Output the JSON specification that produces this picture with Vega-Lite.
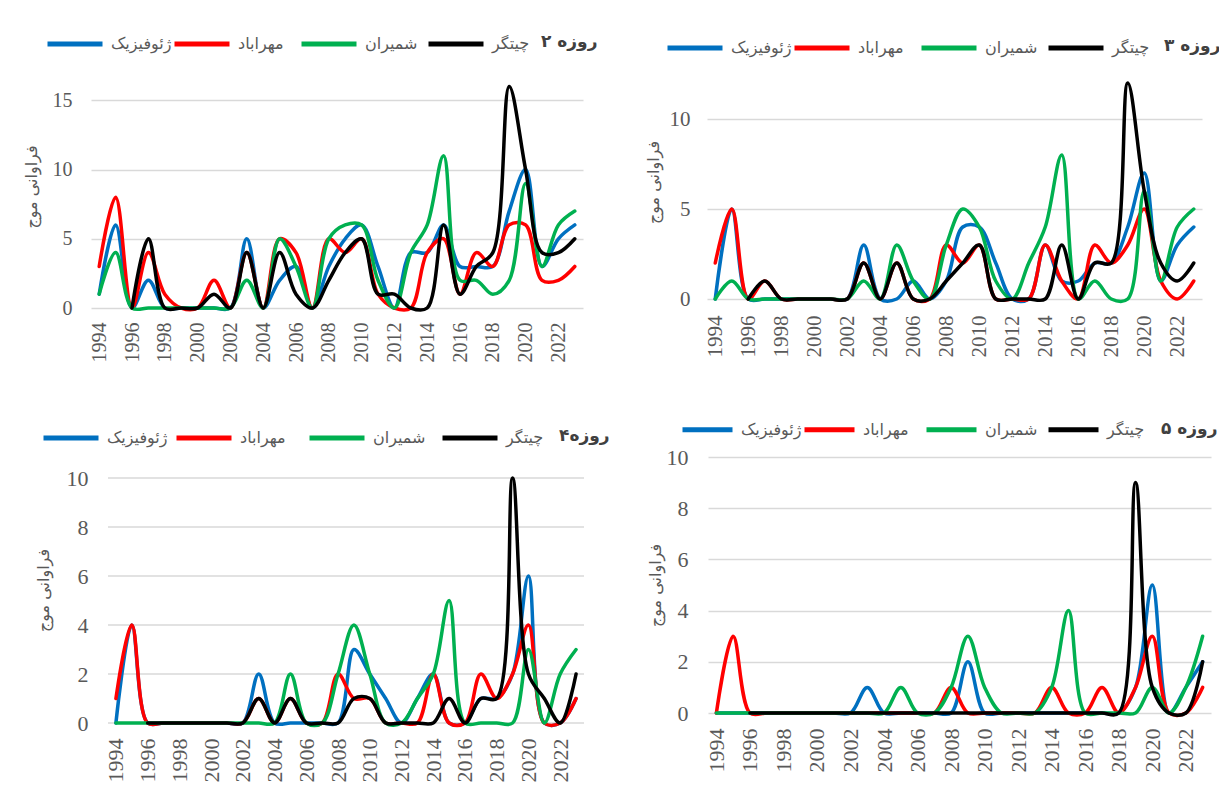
{
  "$schema": "https://vega.github.io/schema/vega-lite/v6.json",
  "background": "white",
  "padding": {"left": 23, "top": 14, "right": 2, "bottom": 2},
  "datasets": {
    "d2": [
      {"year":1994,"ژئوفیزیک":1,"مهراباد":3,"شمیران":1,"چیتگر":null},
      {"year":1995,"ژئوفیزیک":6,"مهراباد":8,"شمیران":4,"چیتگر":null},
      {"year":1996,"ژئوفیزیک":0,"مهراباد":0,"شمیران":0,"چیتگر":0},
      {"year":1997,"ژئوفیزیک":2,"مهراباد":4,"شمیران":0,"چیتگر":5},
      {"year":1998,"ژئوفیزیک":0,"مهراباد":1,"شمیران":0,"چیتگر":0},
      {"year":1999,"ژئوفیزیک":0,"مهراباد":0,"شمیران":0,"چیتگر":0},
      {"year":2000,"ژئوفیزیک":0,"مهراباد":0,"شمیران":0,"چیتگر":0},
      {"year":2001,"ژئوفیزیک":0,"مهراباد":2,"شمیران":0,"چیتگر":1},
      {"year":2002,"ژئوفیزیک":0,"مهراباد":0,"شمیران":0,"چیتگر":0},
      {"year":2003,"ژئوفیزیک":5,"مهراباد":4,"شمیران":2,"چیتگر":4},
      {"year":2004,"ژئوفیزیک":0,"مهراباد":0,"شمیران":0,"چیتگر":0},
      {"year":2005,"ژئوفیزیک":2,"مهراباد":5,"شمیران":5,"چیتگر":4},
      {"year":2006,"ژئوفیزیک":3,"مهراباد":4,"شمیران":3,"چیتگر":1},
      {"year":2007,"ژئوفیزیک":0,"مهراباد":0,"شمیران":0,"چیتگر":0},
      {"year":2008,"ژئوفیزیک":3,"مهراباد":5,"شمیران":5,"چیتگر":2},
      {"year":2009,"ژئوفیزیک":5,"مهراباد":4,"شمیران":6,"چیتگر":4},
      {"year":2010,"ژئوفیزیک":6,"مهراباد":5,"شمیران":6,"چیتگر":5},
      {"year":2011,"ژئوفیزیک":3,"مهراباد":1,"شمیران":2,"چیتگر":1},
      {"year":2012,"ژئوفیزیک":0,"مهراباد":0,"شمیران":0,"چیتگر":1},
      {"year":2013,"ژئوفیزیک":4,"مهراباد":0,"شمیران":4,"چیتگر":0},
      {"year":2014,"ژئوفیزیک":4,"مهراباد":4,"شمیران":6,"چیتگر":0},
      {"year":2015,"ژئوفیزیک":6,"مهراباد":5,"شمیران":11,"چیتگر":6},
      {"year":2016,"ژئوفیزیک":3,"مهراباد":1,"شمیران":2,"چیتگر":1},
      {"year":2017,"ژئوفیزیک":3,"مهراباد":4,"شمیران":2,"چیتگر":3},
      {"year":2018,"ژئوفیزیک":3,"مهراباد":3,"شمیران":1,"چیتگر":4},
      {"year":2019,"ژئوفیزیک":7,"مهراباد":6,"شمیران":2,"چیتگر":16},
      {"year":2020,"ژئوفیزیک":10,"مهراباد":6,"شمیران":9,"چیتگر":10},
      {"year":2021,"ژئوفیزیک":3,"مهراباد":2,"شمیران":3,"چیتگر":4},
      {"year":2022,"ژئوفیزیک":5,"مهراباد":2,"شمیران":6,"چیتگر":4},
      {"year":2023,"ژئوفیزیک":6,"مهراباد":3,"شمیران":7,"چیتگر":5}
    ],
    "d3": [
      {"year":1994,"ژئوفیزیک":0,"مهراباد":2,"شمیران":0,"چیتگر":null},
      {"year":1995,"ژئوفیزیک":5,"مهراباد":5,"شمیران":1,"چیتگر":null},
      {"year":1996,"ژئوفیزیک":0,"مهراباد":0,"شمیران":0,"چیتگر":0},
      {"year":1997,"ژئوفیزیک":0,"مهراباد":1,"شمیران":0,"چیتگر":1},
      {"year":1998,"ژئوفیزیک":0,"مهراباد":0,"شمیران":0,"چیتگر":0},
      {"year":1999,"ژئوفیزیک":0,"مهراباد":0,"شمیران":0,"چیتگر":0},
      {"year":2000,"ژئوفیزیک":0,"مهراباد":0,"شمیران":0,"چیتگر":0},
      {"year":2001,"ژئوفیزیک":0,"مهراباد":0,"شمیران":0,"چیتگر":0},
      {"year":2002,"ژئوفیزیک":0,"مهراباد":0,"شمیران":0,"چیتگر":0},
      {"year":2003,"ژئوفیزیک":3,"مهراباد":2,"شمیران":1,"چیتگر":2},
      {"year":2004,"ژئوفیزیک":0,"مهراباد":0,"شمیران":0,"چیتگر":0},
      {"year":2005,"ژئوفیزیک":0,"مهراباد":2,"شمیران":3,"چیتگر":2},
      {"year":2006,"ژئوفیزیک":1,"مهراباد":0,"شمیران":1,"چیتگر":0},
      {"year":2007,"ژئوفیزیک":0,"مهراباد":0,"شمیران":0,"چیتگر":0},
      {"year":2008,"ژئوفیزیک":1,"مهراباد":3,"شمیران":3,"چیتگر":1},
      {"year":2009,"ژئوفیزیک":4,"مهراباد":2,"شمیران":5,"چیتگر":2},
      {"year":2010,"ژئوفیزیک":4,"مهراباد":3,"شمیران":4,"چیتگر":3},
      {"year":2011,"ژئوفیزیک":2,"مهراباد":0,"شمیران":1,"چیتگر":0},
      {"year":2012,"ژئوفیزیک":0,"مهراباد":0,"شمیران":0,"چیتگر":0},
      {"year":2013,"ژئوفیزیک":0,"مهراباد":0,"شمیران":2,"چیتگر":0},
      {"year":2014,"ژئوفیزیک":3,"مهراباد":3,"شمیران":4,"چیتگر":0},
      {"year":2015,"ژئوفیزیک":1,"مهراباد":1,"شمیران":8,"چیتگر":3},
      {"year":2016,"ژئوفیزیک":1,"مهراباد":0,"شمیران":0,"چیتگر":0},
      {"year":2017,"ژئوفیزیک":2,"مهراباد":3,"شمیران":1,"چیتگر":2},
      {"year":2018,"ژئوفیزیک":2,"مهراباد":2,"شمیران":0,"چیتگر":2},
      {"year":2019,"ژئوفیزیک":4,"مهراباد":3,"شمیران":0,"چیتگر":12},
      {"year":2020,"ژئوفیزیک":7,"مهراباد":5,"شمیران":6,"چیتگر":6},
      {"year":2021,"ژئوفیزیک":1,"مهراباد":1,"شمیران":1,"چیتگر":2},
      {"year":2022,"ژئوفیزیک":3,"مهراباد":0,"شمیران":4,"چیتگر":1},
      {"year":2023,"ژئوفیزیک":4,"مهراباد":1,"شمیران":5,"چیتگر":2}
    ],
    "d4": [
      {"year":1994,"ژئوفیزیک":0,"مهراباد":1,"شمیران":0,"چیتگر":null},
      {"year":1995,"ژئوفیزیک":4,"مهراباد":4,"شمیران":0,"چیتگر":null},
      {"year":1996,"ژئوفیزیک":0,"مهراباد":0,"شمیران":0,"چیتگر":0},
      {"year":1997,"ژئوفیزیک":0,"مهراباد":0,"شمیران":0,"چیتگر":0},
      {"year":1998,"ژئوفیزیک":0,"مهراباد":0,"شمیران":0,"چیتگر":0},
      {"year":1999,"ژئوفیزیک":0,"مهراباد":0,"شمیران":0,"چیتگر":0},
      {"year":2000,"ژئوفیزیک":0,"مهراباد":0,"شمیران":0,"چیتگر":0},
      {"year":2001,"ژئوفیزیک":0,"مهراباد":0,"شمیران":0,"چیتگر":0},
      {"year":2002,"ژئوفیزیک":0,"مهراباد":0,"شمیران":0,"چیتگر":0},
      {"year":2003,"ژئوفیزیک":2,"مهراباد":1,"شمیران":0,"چیتگر":1},
      {"year":2004,"ژئوفیزیک":0,"مهراباد":0,"شمیران":0,"چیتگر":0},
      {"year":2005,"ژئوفیزیک":0,"مهراباد":1,"شمیران":2,"چیتگر":1},
      {"year":2006,"ژئوفیزیک":0,"مهراباد":0,"شمیران":0,"چیتگر":0},
      {"year":2007,"ژئوفیزیک":0,"مهراباد":0,"شمیران":0,"چیتگر":0},
      {"year":2008,"ژئوفیزیک":0,"مهراباد":2,"شمیران":2,"چیتگر":0},
      {"year":2009,"ژئوفیزیک":3,"مهراباد":1,"شمیران":4,"چیتگر":1},
      {"year":2010,"ژئوفیزیک":2,"مهراباد":1,"شمیران":2,"چیتگر":1},
      {"year":2011,"ژئوفیزیک":1,"مهراباد":0,"شمیران":0,"چیتگر":0},
      {"year":2012,"ژئوفیزیک":0,"مهراباد":0,"شمیران":0,"چیتگر":0},
      {"year":2013,"ژئوفیزیک":1,"مهراباد":0,"شمیران":1,"چیتگر":0},
      {"year":2014,"ژئوفیزیک":2,"مهراباد":2,"شمیران":2,"چیتگر":0},
      {"year":2015,"ژئوفیزیک":0,"مهراباد":0,"شمیران":5,"چیتگر":1},
      {"year":2016,"ژئوفیزیک":0,"مهراباد":0,"شمیران":0,"چیتگر":0},
      {"year":2017,"ژئوفیزیک":1,"مهراباد":2,"شمیران":0,"چیتگر":1},
      {"year":2018,"ژئوفیزیک":1,"مهراباد":1,"شمیران":0,"چیتگر":1},
      {"year":2019,"ژئوفیزیک":2,"مهراباد":2,"شمیران":0,"چیتگر":10},
      {"year":2020,"ژئوفیزیک":6,"مهراباد":4,"شمیران":3,"چیتگر":2},
      {"year":2021,"ژئوفیزیک":0,"مهراباد":0,"شمیران":0,"چیتگر":1},
      {"year":2022,"ژئوفیزیک":0,"مهراباد":0,"شمیران":2,"چیتگر":0},
      {"year":2023,"ژئوفیزیک":1,"مهراباد":1,"شمیران":3,"چیتگر":2}
    ],
    "d5": [
      {"year":1994,"ژئوفیزیک":0,"مهراباد":0,"شمیران":0,"چیتگر":null},
      {"year":1995,"ژئوفیزیک":0,"مهراباد":3,"شمیران":0,"چیتگر":null},
      {"year":1996,"ژئوفیزیک":0,"مهراباد":0,"شمیران":0,"چیتگر":0},
      {"year":1997,"ژئوفیزیک":0,"مهراباد":0,"شمیران":0,"چیتگر":0},
      {"year":1998,"ژئوفیزیک":0,"مهراباد":0,"شمیران":0,"چیتگر":0},
      {"year":1999,"ژئوفیزیک":0,"مهراباد":0,"شمیران":0,"چیتگر":0},
      {"year":2000,"ژئوفیزیک":0,"مهراباد":0,"شمیران":0,"چیتگر":0},
      {"year":2001,"ژئوفیزیک":0,"مهراباد":0,"شمیران":0,"چیتگر":0},
      {"year":2002,"ژئوفیزیک":0,"مهراباد":0,"شمیران":0,"چیتگر":0},
      {"year":2003,"ژئوفیزیک":1,"مهراباد":0,"شمیران":0,"چیتگر":0},
      {"year":2004,"ژئوفیزیک":0,"مهراباد":0,"شمیران":0,"چیتگر":0},
      {"year":2005,"ژئوفیزیک":0,"مهراباد":0,"شمیران":1,"چیتگر":0},
      {"year":2006,"ژئوفیزیک":0,"مهراباد":0,"شمیران":0,"چیتگر":0},
      {"year":2007,"ژئوفیزیک":0,"مهراباد":0,"شمیران":0,"چیتگر":0},
      {"year":2008,"ژئوفیزیک":0,"مهراباد":1,"شمیران":1,"چیتگر":0},
      {"year":2009,"ژئوفیزیک":2,"مهراباد":0,"شمیران":3,"چیتگر":0},
      {"year":2010,"ژئوفیزیک":0,"مهراباد":0,"شمیران":1,"چیتگر":0},
      {"year":2011,"ژئوفیزیک":0,"مهراباد":0,"شمیران":0,"چیتگر":0},
      {"year":2012,"ژئوفیزیک":0,"مهراباد":0,"شمیران":0,"چیتگر":0},
      {"year":2013,"ژئوفیزیک":0,"مهراباد":0,"شمیران":0,"چیتگر":0},
      {"year":2014,"ژئوفیزیک":0,"مهراباد":1,"شمیران":1,"چیتگر":0},
      {"year":2015,"ژئوفیزیک":0,"مهراباد":0,"شمیران":4,"چیتگر":0},
      {"year":2016,"ژئوفیزیک":0,"مهراباد":0,"شمیران":0,"چیتگر":0},
      {"year":2017,"ژئوفیزیک":0,"مهراباد":1,"شمیران":0,"چیتگر":0},
      {"year":2018,"ژئوفیزیک":0,"مهراباد":0,"شمیران":0,"چیتگر":0},
      {"year":2019,"ژئوفیزیک":1,"مهراباد":1,"شمیران":0,"چیتگر":9},
      {"year":2020,"ژئوفیزیک":5,"مهراباد":3,"شمیران":1,"چیتگر":1},
      {"year":2021,"ژئوفیزیک":0,"مهراباد":0,"شمیران":0,"چیتگر":0},
      {"year":2022,"ژئوفیزیک":1,"مهراباد":0,"شمیران":1,"چیتگر":0},
      {"year":2023,"ژئوفیزیک":2,"مهراباد":1,"شمیران":3,"چیتگر":2}
    ]
  },
  "columns": 1,
  "align": "none",
  "spacing": 40,
  "concat": [
    {
      "hconcat": [
        {
          "width": 492, "height": 243,
          "data": {"name": "d2"},
          "transform": [{"fold": ["ژئوفیزیک","مهراباد","شمیران","چیتگر"], "as": ["station","value"]}, {"filter": "datum.value != null"}],
          "mark": {"type": "line", "interpolate": "catmull-rom", "strokeWidth": 3.5, "strokeCap": "round", "strokeJoin": "round", "clip": false},
          "encoding": {
            "x": {"field": "year", "type": "quantitative", "scale": {"domain": [1993.5, 2023.5], "nice": false, "zero": false},
                  "axis": {"values": [1994,1996,1998,2000,2002,2004,2006,2008,2010,2012,2014,2016,2018,2020,2022], "format": "d", "labelAngle": -90, "labelPadding": 14, "labelFontSize": 20, "title": null}},
            "y": {"field": "value", "type": "quantitative", "scale": {"domain": [0, 17.55], "nice": false},
                  "axis": {"values": [0,5,10,15], "title": "فراوانی موج", "labelPadding": 19, "minExtent": 40, "maxExtent": 40, "titlePadding": 12, "labelFontSize": 20}},
            "color": {"field": "station", "type": "nominal",
                      "scale": {"domain": ["ژئوفیزیک","مهراباد","شمیران","چیتگر"], "range": ["#0070C0","#FF0000","#00B050","#000000"]},
                      "legend": {"orient": "none", "legendX": -46, "legendY": -51, "title": "۲ روزه", "columnPadding": -9, "titlePadding": 12}}
          }
        },
        {
          "width": 495, "height": 234,
          "data": {"name": "d3"},
          "transform": [{"fold": ["ژئوفیزیک","مهراباد","شمیران","چیتگر"], "as": ["station","value"]}, {"filter": "datum.value != null"}],
          "mark": {"type": "line", "interpolate": "catmull-rom", "strokeWidth": 3.5, "strokeCap": "round", "strokeJoin": "round", "clip": false},
          "encoding": {
            "x": {"field": "year", "type": "quantitative", "scale": {"domain": [1993.5, 2023.5], "nice": false, "zero": false},
                  "axis": {"values": [1994,1996,1998,2000,2002,2004,2006,2008,2010,2012,2014,2016,2018,2020,2022], "format": "d", "labelAngle": -90, "labelPadding": 16, "labelFontSize": 21, "title": null}},
            "y": {"field": "value", "type": "quantitative", "scale": {"domain": [0, 13], "nice": false},
                  "axis": {"values": [0,5,10], "title": "فراوانی موج", "labelPadding": 17, "minExtent": 40, "maxExtent": 40, "titlePadding": 6, "labelFontSize": 21}},
            "color": {"field": "station", "type": "nominal",
                      "scale": {"domain": ["ژئوفیزیک","مهراباد","شمیران","چیتگر"], "range": ["#0070C0","#FF0000","#00B050","#000000"]},
                      "legend": {"orient": "none", "legendX": -42, "legendY": -47, "title": "۳ روزه", "columnPadding": -10, "titlePadding": 15}}
          }
        }
      ],
      "spacing": 124,
      "bounds": "flush",
      "resolve": {"legend": {"color": "independent"}, "scale": {"color": "independent"}}
    },
    {
      "hconcat": [
        {
          "width": 493, "height": 266,
          "layer": [
            {"data": {"values": [{}]}, "mark": {"type": "rule", "color": "#d9d9d9", "strokeWidth": 1.5}, "encoding": {"x": {"datum": 1993.5, "type": "quantitative", "scale": {"domain": [1992.43, 2023.5], "nice": false, "zero": false}, "axis": null}, "x2": {"datum": 2023.5}, "y": {"datum": 0, "type": "quantitative"}}},
            {"data": {"values": [{}]}, "mark": {"type": "rule", "color": "#d9d9d9", "strokeWidth": 1.5}, "encoding": {"x": {"datum": 1993.5, "type": "quantitative", "scale": {"domain": [1992.43, 2023.5], "nice": false, "zero": false}, "axis": null}, "x2": {"datum": 2023.5}, "y": {"datum": 2, "type": "quantitative"}}},
            {"data": {"values": [{}]}, "mark": {"type": "rule", "color": "#d9d9d9", "strokeWidth": 1.5}, "encoding": {"x": {"datum": 1993.5, "type": "quantitative", "scale": {"domain": [1992.43, 2023.5], "nice": false, "zero": false}, "axis": null}, "x2": {"datum": 2023.5}, "y": {"datum": 4, "type": "quantitative"}}},
            {"data": {"values": [{}]}, "mark": {"type": "rule", "color": "#d9d9d9", "strokeWidth": 1.5}, "encoding": {"x": {"datum": 1993.5, "type": "quantitative", "scale": {"domain": [1992.43, 2023.5], "nice": false, "zero": false}, "axis": null}, "x2": {"datum": 2023.5}, "y": {"datum": 6, "type": "quantitative"}}},
            {"data": {"values": [{}]}, "mark": {"type": "rule", "color": "#d9d9d9", "strokeWidth": 1.5}, "encoding": {"x": {"datum": 1993.5, "type": "quantitative", "scale": {"domain": [1992.43, 2023.5], "nice": false, "zero": false}, "axis": null}, "x2": {"datum": 2023.5}, "y": {"datum": 8, "type": "quantitative"}}},
            {"data": {"values": [{}]}, "mark": {"type": "rule", "color": "#d9d9d9", "strokeWidth": 1.5}, "encoding": {"x": {"datum": 1993.5, "type": "quantitative", "scale": {"domain": [1992.43, 2023.5], "nice": false, "zero": false}, "axis": null}, "x2": {"datum": 2023.5}, "y": {"datum": 10, "type": "quantitative"}}},
            {
              "data": {"name": "d4"},
              "transform": [{"fold": ["ژئوفیزیک","مهراباد","شمیران","چیتگر"], "as": ["station","value"]}, {"filter": "datum.value != null"}],
              "mark": {"type": "line", "interpolate": "catmull-rom", "strokeWidth": 3.5, "strokeCap": "round", "strokeJoin": "round", "clip": false},
              "encoding": {
                "x": {"field": "year", "type": "quantitative", "scale": {"domain": [1992.43, 2023.5], "nice": false, "zero": false},
                      "axis": {"values": [1994,1996,1998,2000,2002,2004,2006,2008,2010,2012,2014,2016,2018,2020,2022], "format": "d", "labelAngle": -90, "labelPadding": 15, "labelFontSize": 22, "labelOverlap": false, "title": null}},
                "y": {"field": "value", "type": "quantitative", "scale": {"domain": [0, 10.86], "nice": false},
                      "axis": {"values": [0,2,4,6,8,10], "grid": false, "offset": -17, "title": "فراوانی موج", "labelPadding": 20, "minExtent": 40, "maxExtent": 40, "titlePadding": 17, "labelFontSize": 22, "labelOverlap": false}},
                "color": {"field": "station", "type": "nominal",
                          "scale": {"domain": ["ژئوفیزیک","مهراباد","شمیران","چیتگر"], "range": ["#0070C0","#FF0000","#00B050","#000000"]},
                          "legend": {"orient": "none", "legendX": -50, "legendY": -49, "title": "۴روزه", "columnPadding": -2, "titlePadding": 16}}
              }
            }
          ],
          "resolve": {"scale": {"x": "independent"}, "axis": {"x": "independent"}}
        },
        {
          "width": 503, "height": 256,
          "data": {"name": "d5"},
          "transform": [{"fold": ["ژئوفیزیک","مهراباد","شمیران","چیتگر"], "as": ["station","value"]}, {"filter": "datum.value != null"}],
          "mark": {"type": "line", "interpolate": "catmull-rom", "strokeWidth": 3.5, "strokeCap": "round", "strokeJoin": "round", "clip": false},
          "encoding": {
            "x": {"field": "year", "type": "quantitative", "scale": {"domain": [1993.5, 2023.5], "nice": false, "zero": false},
                  "axis": {"values": [1994,1996,1998,2000,2002,2004,2006,2008,2010,2012,2014,2016,2018,2020,2022], "format": "d", "labelAngle": -90, "labelPadding": 15, "labelFontSize": 22, "title": null}},
            "y": {"field": "value", "type": "quantitative", "scale": {"domain": [0, 10], "nice": false},
                  "axis": {"values": [0,2,4,6,8,10], "title": "فراوانی موج", "labelPadding": 20, "minExtent": 40, "maxExtent": 40, "titlePadding": 5, "labelFontSize": 22}},
            "color": {"field": "station", "type": "nominal",
                      "scale": {"domain": ["ژئوفیزیک","مهراباد","شمیران","چیتگر"], "range": ["#0070C0","#FF0000","#00B050","#000000"]},
                      "legend": {"orient": "none", "legendX": -28, "legendY": -55, "title": "۵ روزه", "columnPadding": -9, "titlePadding": 17, "symbolSize": 2500}}
          }
        }
      ],
      "spacing": 124,
      "bounds": "flush",
      "resolve": {"legend": {"color": "independent"}, "scale": {"color": "independent"}}
    }
  ],
  "resolve": {"legend": {"color": "independent"}, "scale": {"color": "independent"}},
  "config": {
    "view": {"stroke": null},
    "axis": {"labelFont": "Liberation Serif", "labelColor": "#595959", "titleFont": "DejaVu Sans", "titleFontSize": 16, "titleFontWeight": "normal", "titleColor": "#595959", "gridColor": "#d9d9d9", "gridWidth": 1.5, "domain": false, "ticks": false, "labelOverlap": false, "labelFlush": false},
    "axisX": {"grid": false},
    "legend": {"direction": "horizontal", "gridAlign": "all", "titleOrient": "right", "titleAnchor": "middle", "titleBaseline": "top", "titleFont": "DejaVu Sans", "titleFontSize": 17, "titleFontWeight": "bold", "titleColor": "#404040", "titleLimit": 300, "labelFont": "DejaVu Sans", "labelFontSize": 16, "labelColor": "#595959", "labelOffset": 6, "labelLimit": 300, "symbolType": "stroke", "symbolSize": 3025, "symbolStrokeWidth": 5}
  }
}
